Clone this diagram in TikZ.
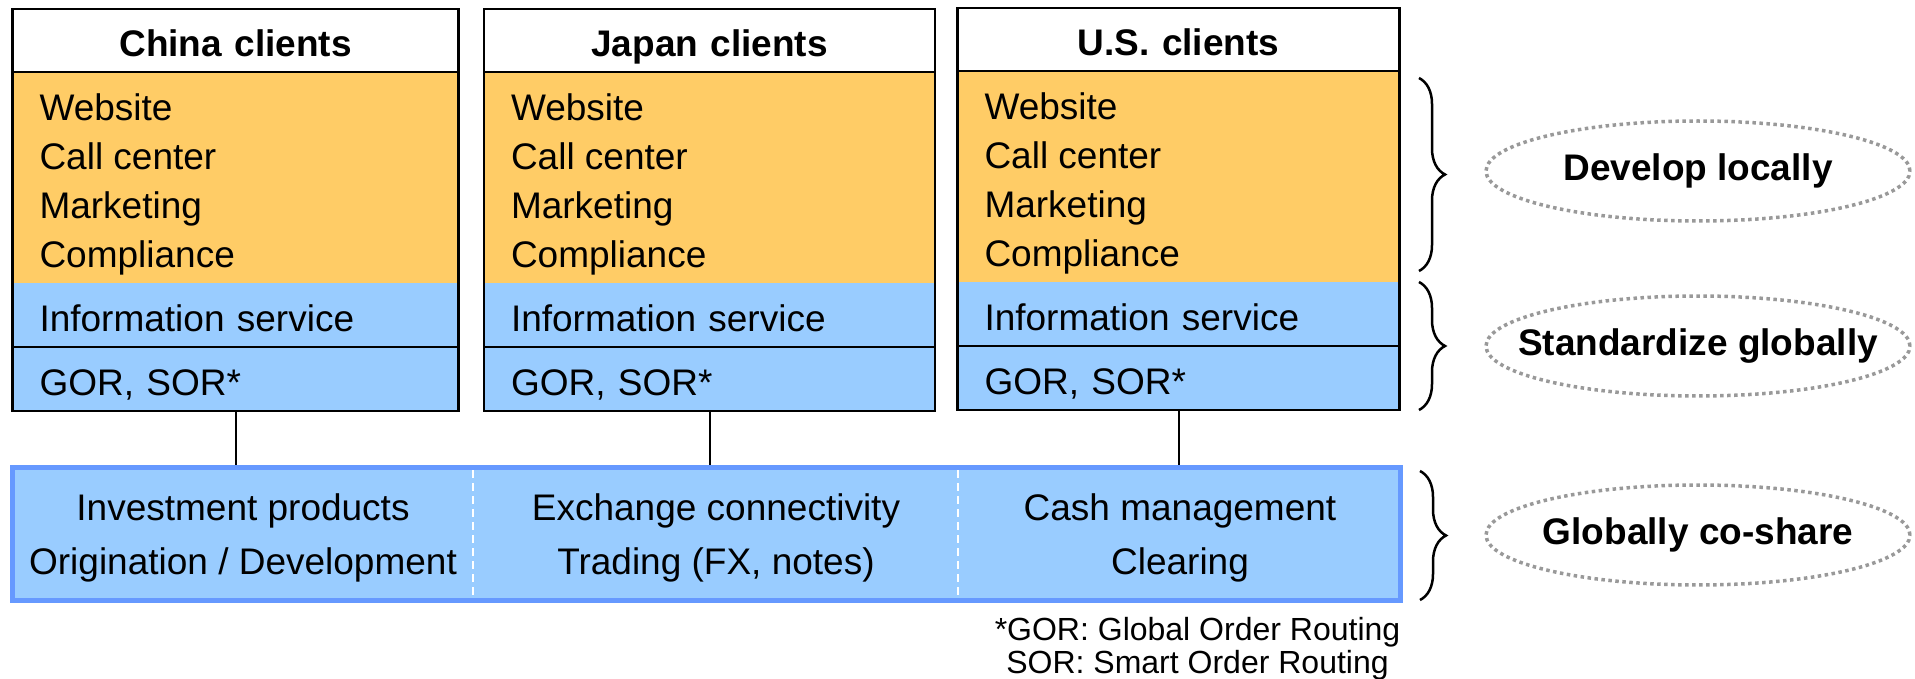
\documentclass[tikz,border=0pt]{standalone}
\usepackage{fontspec}
\setmainfont{Liberation Sans}
\usetikzlibrary{positioning,shapes.geometric,decorations.pathreplacing}
\definecolor{localorange}{HTML}{FFCC66}
\definecolor{globalblue}{HTML}{99CCFF}
\definecolor{barblue}{HTML}{6699FF}
\definecolor{ringgray}{HTML}{999999}

\begin{document}
\begin{tikzpicture}[x=1pt,y=-1pt]
		\tikzstyle{every node}+=[inner sep=0pt,outer sep=0pt]
		\tikzstyle{headcell}=[anchor=north west,fill=white,minimum height=63pt,inner xsep=27pt,text height=33pt,text depth=0pt,align=center,font=\fontsize{37}{49}\selectfont\bfseries]
		\tikzstyle{localcell}=[anchor=north west,fill=localorange,minimum height=211pt]
		\tikzstyle{globalcell}=[anchor=north west,fill=globalblue,minimum height=64pt,inner xsep=27pt,text height=33pt,text depth=0pt,align=left,font=\fontsize{37}{49}\selectfont]
		\tikzstyle{listtext}=[align=left,font=\fontsize{37}{49}\selectfont]
		\tikzstyle{frame}=[black,line width=2.5pt]
		\tikzstyle{link}=[black,line width=2pt,shorten >=2.5pt]
		\tikzstyle{bar}=[draw=barblue,fill=globalblue,line width=5pt,minimum width=1388pt,minimum height=133pt]
		\tikzstyle{bartext}=[align=center,font=\fontsize{37}{54}\selectfont]
		\tikzstyle{divider}=[white,line width=1.5pt,dash pattern=on 8pt off 5pt]
		\tikzstyle{bracket}=[black,line width=2.5pt,decorate,decoration={brace,amplitude=26pt}]
		\tikzstyle{goal}=[ellipse,draw=ringgray,line width=3.5pt,dash pattern=on 3.5pt off 3.5pt,minimum width=424pt,minimum height=100pt,font=\fontsize{37}{49}\selectfont\bfseries]
		\tikzstyle{note}=[align=center,font=\fontsize{32}{33}\selectfont]
		\useasboundingbox (0,0) rectangle (1915,679);
		\node [headcell,text width=392pt] (chHead) at (12.5,9) {China clients};
		\node [localcell,minimum width=446pt] (chLocal) at (chHead.south west) {};
		\node [globalcell,text width=392pt] (chInfo) at (chLocal.south west) {Information service};
		\node [globalcell,text width=392pt] (chGor) at (chInfo.south west) {GOR, SOR*};
		\node [listtext,below right=22pt and 27pt of chLocal.north west] (chList) {Website\\Call center\\Marketing\\Compliance};
		\draw [frame] (chHead.north west) rectangle (chGor.south east) (chHead.south west) -- (chHead.south east) (chGor.north west) -- (chGor.north east);
		\node [headcell,text width=397pt] (jpHead) at (484,9) {Japan clients};
		\node [localcell,minimum width=451pt] (jpLocal) at (jpHead.south west) {};
		\node [globalcell,text width=397pt] (jpInfo) at (jpLocal.south west) {Information service};
		\node [globalcell,text width=397pt] (jpGor) at (jpInfo.south west) {GOR, SOR*};
		\node [listtext,below right=22pt and 27pt of jpLocal.north west] (jpList) {Website\\Call center\\Marketing\\Compliance};
		\draw [frame] (jpHead.north west) rectangle (jpGor.south east) (jpHead.south west) -- (jpHead.south east) (jpGor.north west) -- (jpGor.north east);
		\node [headcell,text width=388pt] (usHead) at (957.5,8) {U.S. clients};
		\node [localcell,minimum width=442pt] (usLocal) at (usHead.south west) {};
		\node [globalcell,text width=388pt] (usInfo) at (usLocal.south west) {Information service};
		\node [globalcell,text width=388pt] (usGor) at (usInfo.south west) {GOR, SOR*};
		\node [listtext,below right=22pt and 27pt of usLocal.north west] (usList) {Website\\Call center\\Marketing\\Compliance};
		\draw [frame] (usHead.north west) rectangle (usGor.south east) (usHead.south west) -- (usHead.south east) (usGor.north west) -- (usGor.north east);
		\node [bar] (bar) at (706.5,534) {};
		\draw [link] (chGor.south) -- (chGor.south |- bar.north);
		\draw [link] (jpGor.south) -- (jpGor.south |- bar.north);
		\draw [link] (usGor.south) -- (usGor.south |- bar.north);
		\draw [divider] (473,470) -- (473,598);
		\draw [divider] (958,470) -- (958,598);
		\node [bartext] (products) at (243,538) {Investment products\\Origination / Development};
		\node [bartext] (exchange) at (716,538) {Exchange connectivity\\Trading (FX, notes)};
		\node [bartext] (cash) at (1180,538) {Cash management\\Clearing};
		\draw [bracket] (1419,78) -- (1419,271);
		\draw [bracket] (1419,282) -- (1419,410);
		\draw [bracket] (1420,471) -- (1420,600);
		\node [goal] (develop) at (1698,171) {\makebox[0pt]{Develop locally}};
		\node [goal] (standard) at (1698,346) {\makebox[0pt]{Standardize globally}};
		\node [goal] (coshare) at (1698,535) {\makebox[0pt]{Globally co-share}};
		\node [note,anchor=north] (footnote) at (1197.5,617) {*GOR: Global Order Routing\\SOR: Smart Order Routing};
	\end{tikzpicture}
\end{document}
